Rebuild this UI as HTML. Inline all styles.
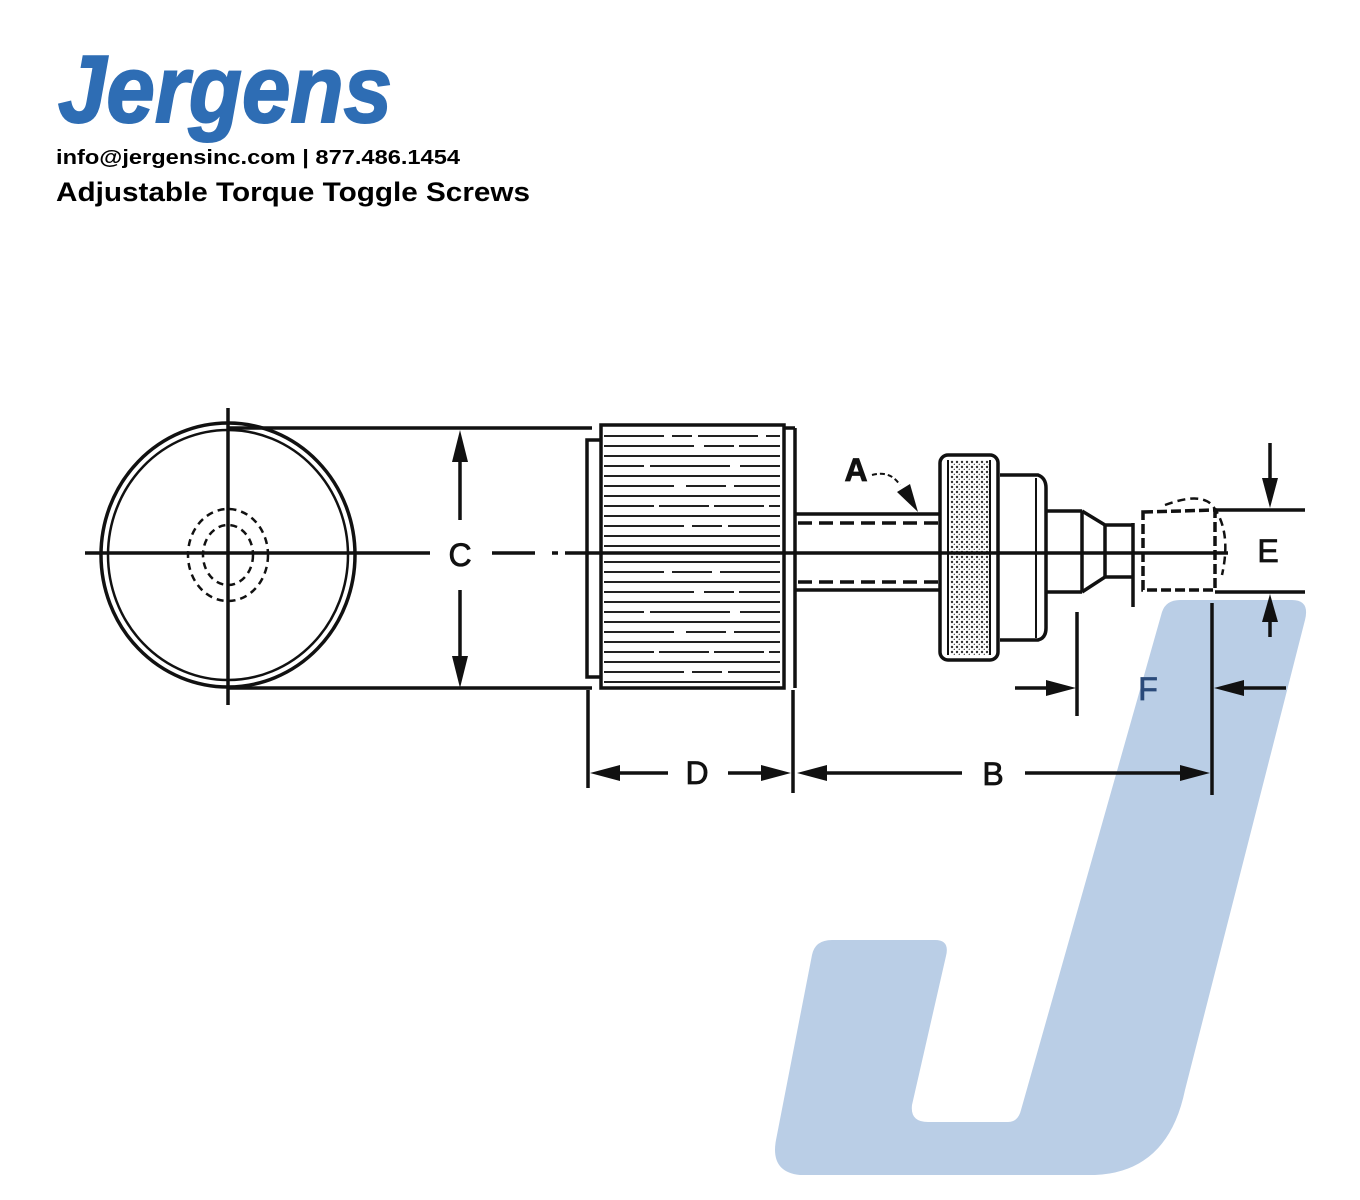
<!DOCTYPE html>
<html><head><meta charset="utf-8"><style>
html,body{margin:0;padding:0;background:#fff;}
body{width:1360px;height:1200px;position:relative;overflow:hidden;font-family:"Liberation Sans",sans-serif;}
svg{position:absolute;left:0;top:0;}
</style></head><body>
<svg width="1360" height="1200" viewBox="0 0 1360 1200">
<path d="M1180,600 L1292,600 Q1310,600 1305,620 L1185,1090 Q1168,1172 1095,1175 L800,1175 Q770,1172 776,1140 L812,955 Q815,940 832,940 L935,940 Q950,940 946,956 L912,1105 Q910,1122 928,1122 L1008,1122 Q1018,1122 1021,1110 L1162,612 Q1166,600 1180,600 Z" fill="#bacee6"/>

<text x="58" y="122" font-family="Liberation Sans" font-weight="bold" font-style="italic" font-size="96" fill="#2e6db4" textLength="334" lengthAdjust="spacingAndGlyphs" stroke="#2e6db4" stroke-width="2">Jergens</text>
<text x="56" y="164" font-size="20" font-weight="bold" fill="#000" textLength="404" lengthAdjust="spacingAndGlyphs">info@jergensinc.com | 877.486.1454</text>
<text x="56" y="201" font-size="27" font-weight="bold" fill="#000" textLength="474" lengthAdjust="spacingAndGlyphs">Adjustable Torque Toggle Screws</text>

<g stroke="#111" fill="none" stroke-width="3.5">
<ellipse cx="228" cy="555" rx="127" ry="132"/>
<ellipse cx="228" cy="555" rx="120" ry="125" stroke-width="2.5"/>
<g stroke-dasharray="7,5" stroke-width="2.5">
<ellipse cx="228" cy="555" rx="40" ry="46"/>
<ellipse cx="228" cy="555" rx="25" ry="30"/>
</g>
<line x1="228" y1="408" x2="228" y2="705"/>
<line x1="85" y1="553" x2="430" y2="553"/>
<line x1="492" y1="553" x2="535" y2="553"/>
<line x1="552" y1="553" x2="558" y2="553"/>
<line x1="565" y1="553" x2="1228" y2="553"/>
<line x1="228" y1="428" x2="592" y2="428"/>
<line x1="228" y1="688" x2="592" y2="688"/>
<line x1="460" y1="440" x2="460" y2="520"/>
<line x1="460" y1="590" x2="460" y2="680"/>
<rect x="601" y="425" width="183" height="263"/>
<polyline points="600,440 587,440 587,677 600,677"/>
<line x1="795" y1="428" x2="795" y2="688"/>
<line x1="784" y1="428" x2="795" y2="428"/>
</g>
<g stroke="#222" stroke-width="2">
<line x1="604" y1="436" x2="780" y2="436" stroke-dasharray="60,8,20,6"/>
<line x1="604" y1="446" x2="780" y2="446" stroke-dasharray="90,10,30,5"/>
<line x1="604" y1="456" x2="780" y2="456"/>
<line x1="604" y1="466" x2="780" y2="466" stroke-dasharray="40,6,80,10"/>
<line x1="604" y1="476" x2="780" y2="476"/>
<line x1="604" y1="486" x2="780" y2="486" stroke-dasharray="70,12,40,8"/>
<line x1="604" y1="496" x2="780" y2="496"/>
<line x1="604" y1="506" x2="780" y2="506" stroke-dasharray="50,5,50,5"/>
<line x1="604" y1="516" x2="780" y2="516"/>
<line x1="604" y1="526" x2="780" y2="526" stroke-dasharray="80,8,30,6"/>
<line x1="604" y1="536" x2="780" y2="536"/>
<line x1="604" y1="546" x2="780" y2="546"/>
<line x1="604" y1="562" x2="780" y2="562"/>
<line x1="604" y1="572" x2="780" y2="572" stroke-dasharray="60,8,40,8"/>
<line x1="604" y1="582" x2="780" y2="582"/>
<line x1="604" y1="592" x2="780" y2="592" stroke-dasharray="90,10,30,5"/>
<line x1="604" y1="602" x2="780" y2="602"/>
<line x1="604" y1="612" x2="780" y2="612" stroke-dasharray="40,6,80,10"/>
<line x1="604" y1="622" x2="780" y2="622"/>
<line x1="604" y1="632" x2="780" y2="632" stroke-dasharray="70,12,40,8"/>
<line x1="604" y1="642" x2="780" y2="642"/>
<line x1="604" y1="652" x2="780" y2="652" stroke-dasharray="50,5,50,5"/>
<line x1="604" y1="662" x2="780" y2="662"/>
<line x1="604" y1="672" x2="780" y2="672" stroke-dasharray="80,8,30,6"/>
<line x1="604" y1="682" x2="780" y2="682"/>
</g>
<g stroke="#111" fill="none" stroke-width="3.5">
<line x1="795" y1="514" x2="940" y2="514"/>
<line x1="795" y1="590" x2="940" y2="590"/>
<line x1="798" y1="523" x2="938" y2="523" stroke-dasharray="14,7"/>
<line x1="798" y1="582" x2="938" y2="582" stroke-dasharray="14,7"/>
<rect x="940" y="455" width="58" height="205" rx="8" fill="#fff"/>
<line x1="948" y1="460" x2="948" y2="655" stroke-width="2"/>
<line x1="990" y1="460" x2="990" y2="655" stroke-width="2"/>
</g>
<pattern id="dots" width="5" height="5" patternUnits="userSpaceOnUse"><circle cx="2" cy="2" r="1.2" fill="#333"/><circle cx="4.5" cy="4.5" r="0.9" fill="#555"/></pattern>
<rect x="950" y="460" width="39" height="195" fill="url(#dots)"/>
<g stroke="#111" fill="none" stroke-width="3.5">
<line x1="940" y1="553" x2="1000" y2="553"/>
<path d="M1000,475 L1038,475 Q1046,478 1046,488 L1046,628 Q1046,638 1038,640 L1000,640"/>
<line x1="1036" y1="478" x2="1036" y2="638" stroke-width="2"/>
<line x1="1046" y1="511" x2="1082" y2="511"/>
<line x1="1046" y1="592" x2="1082" y2="592"/>
<line x1="1082" y1="511" x2="1082" y2="592"/>
<polyline points="1082,511 1105,525 1133,525"/>
<polyline points="1082,592 1105,577 1133,577"/>
<line x1="1105" y1="525" x2="1105" y2="577"/>
<line x1="1133" y1="523" x2="1133" y2="607"/>
<path d="M1143,512 L1215,510 L1215,590 L1143,590 Z" stroke-dasharray="10,4"/>
<path d="M1165,505 Q1200,492 1212,505 Q1232,530 1222,575" stroke-dasharray="8,5" stroke-width="2.5"/>
<line x1="1215" y1="510" x2="1305" y2="510"/>
<line x1="1215" y1="592" x2="1305" y2="592"/>
<line x1="1270" y1="443" x2="1270" y2="490"/>
<line x1="1270" y1="615" x2="1270" y2="637"/>
<line x1="1077" y1="612" x2="1077" y2="716"/>
<line x1="1015" y1="688" x2="1060" y2="688"/>
<line x1="1212" y1="603" x2="1212" y2="795"/>
<line x1="1235" y1="688" x2="1286" y2="688"/>
<line x1="588" y1="690" x2="588" y2="788"/>
<line x1="793" y1="690" x2="793" y2="793"/>
<line x1="605" y1="773" x2="668" y2="773"/>
<line x1="728" y1="773" x2="776" y2="773"/>
<line x1="812" y1="773" x2="962" y2="773"/>
<line x1="1025" y1="773" x2="1195" y2="773"/>
<path d="M872,475 Q890,470 900,485" stroke-width="2" stroke-dasharray="5,3"/>
</g>
<g fill="#111">
<polygon points="460,430 452,462 468,462"/>
<polygon points="460,688 452,656 468,656"/>
<polygon points="1270,508 1262,478 1278,478"/>
<polygon points="1270,594 1262,622 1278,622"/>
<polygon points="1076,688 1046,680 1046,696"/>
<polygon points="1214,688 1244,680 1244,696"/>
<polygon points="590,773 620,765 620,781"/>
<polygon points="791,773 761,765 761,781"/>
<polygon points="797,773 827,765 827,781"/>
<polygon points="1210,773 1180,765 1180,781"/>
<polygon points="918,512 897,492 910,484"/>
</g>
<g font-family="Liberation Sans" font-size="32" fill="#111" text-anchor="middle" stroke="#111" stroke-width="0.8">
<text x="460" y="566">C</text>
<text x="697" y="784">D</text>
<text x="993" y="785">B</text>
<text x="1148" y="700" fill="#2a4a7a" stroke="#2a4a7a">F</text>
<text x="1268" y="562">E</text>
<text x="856" y="481" font-weight="bold">A</text>
</g>
</svg>
</body></html>
